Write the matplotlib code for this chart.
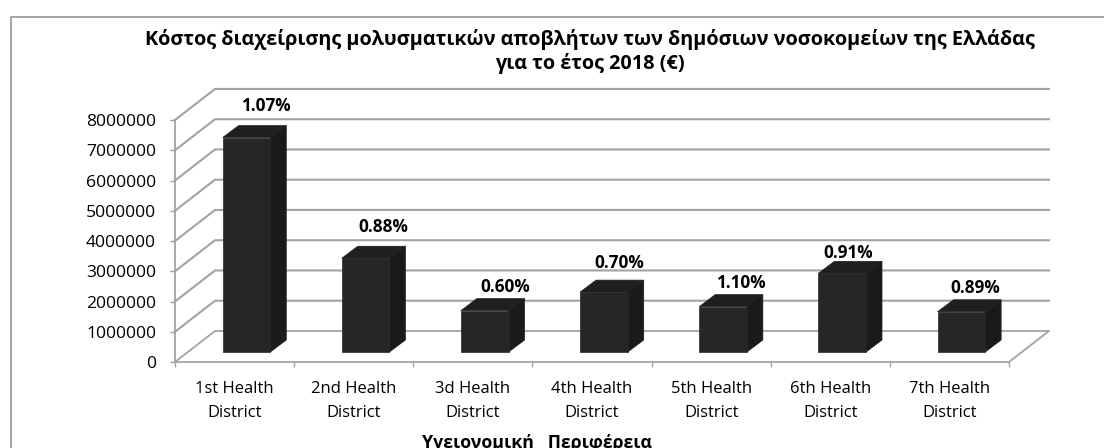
import matplotlib

matplotlib.use("Agg")
import matplotlib.pyplot as plt
from matplotlib.lines import Line2D

plt.rcParams["font.family"] = ["Open Sans", "DejaVu Sans"]

districts = [
    "1st Health\nDistrict",
    "2nd Health\nDistrict",
    "3d Health\nDistrict",
    "4th Health\nDistrict",
    "5th Health\nDistrict",
    "6th Health\nDistrict",
    "7th Health\nDistrict",
]
cost_eur = [7090000, 3100000, 1370000, 1980000, 1500000, 2600000, 1330000]
pct_labels = ["1.07%", "0.88%", "0.60%", "0.70%", "1.10%", "0.91%", "0.89%"]
y_ticks = [0, 1000000, 2000000, 3000000, 4000000, 5000000, 6000000, 7000000, 8000000]

# hand-placed label nudges, in pixels from the back top edge of each bar
label_nudge = [(3, 20), (1.5, 19.6), (5, 12), (-1, 17.6), (2, 12), (-10, 8), (-2, 12)]

W, H = 1104, 448
GRID = "#a3a3a3"
FRONT = "#262626"
SIDE = "#1a1a1a"
TOP = "#1f1f1f"

# fake 3D depth, in data units
WALL_DX = 0.336
WALL_DY = 1026000
BAR_LEFT = 0.4
BAR_W = 0.4
BAR_BASE = 330000
BAR_DX = 0.134
BAR_DY = 397000

fig = plt.figure(figsize=(W / 100, H / 100), dpi=100)
ax = fig.add_axes([175 / W, (H - 362) / H, 834 / W, 242 / H])
ax.set_xlim(0, 7)
ax.set_ylim(0, 8000000)
ax.patch.set_visible(False)

# floor and walls
n = len(districts)
ax.plot([n, n + WALL_DX, WALL_DX, 0], [0, WALL_DY, WALL_DY, 0], color=GRID, lw=1.3, clip_on=False)
for v in y_ticks[1:]:
    ax.plot([0, WALL_DX, n + WALL_DX], [v, v + WALL_DY, v + WALL_DY], color=GRID, lw=1.5, clip_on=False)

for i, (v, lab, nudge) in enumerate(zip(cost_eur, pct_labels, label_nudge)):
    x0 = i + BAR_LEFT
    x1 = x0 + BAR_W
    y0 = BAR_BASE
    y1 = BAR_BASE + v
    ax.fill([x1, x1 + BAR_DX, x1 + BAR_DX, x1], [y0, y0 + BAR_DY, y1 + BAR_DY, y1],
            fc=SIDE, ec=SIDE, lw=0.5, clip_on=False, zorder=4)
    ax.fill([x0, x1, x1 + BAR_DX, x0 + BAR_DX], [y1, y1, y1 + BAR_DY, y1 + BAR_DY],
            fc=TOP, ec=TOP, lw=0.5, clip_on=False, zorder=4)
    ax.fill([x0, x1, x1, x0], [y0, y0, y1, y1], fc=FRONT, ec=FRONT, lw=0.5, clip_on=False, zorder=4)
    ax.annotate(lab, (x0 + BAR_W / 2 + BAR_DX, y1 + BAR_DY), xytext=nudge,
                textcoords="offset pixels", ha="center", va="center",
                fontsize=12.3, fontweight="bold", color="black", zorder=5)

for side in ["top", "right"]:
    ax.spines[side].set_visible(False)
for side in ["left", "bottom"]:
    ax.spines[side].set_color(GRID)
    ax.spines[side].set_linewidth(1.3)

ax.set_yticks(y_ticks)
ax.set_yticklabels([str(v) for v in y_ticks])
ax.tick_params(axis="y", length=3.6, width=1, color=GRID, pad=10, labelsize=12.6, labelcolor="black")

# ticks on category edges, labels in the middle
ax.set_xticks(range(n + 1))
ax.set_xticklabels([])
ax.set_xticks([i + 0.5 for i in range(n)], minor=True)
ax.set_xticklabels(districts, minor=True, fontsize=12, linespacing=1.7, color="black")
ax.tick_params(axis="x", which="major", length=3.6, width=1, color=GRID)
ax.tick_params(axis="x", which="minor", length=0, pad=13.5)

fig.text(590 / W, 1 - 51.5 / H,
         "Κόστος διαχείρισης μολυσματικών αποβλήτων των δημόσιων νοσοκομείων της Ελλάδας\n"
         "για το έτος 2018 (€)",
         ha="center", va="center", fontsize=14.3, fontweight="bold", linespacing=1.25)
fig.text(537 / W, 1 - 442.5 / H, "Υγειονομική   Περιφέρεια", ha="center", va="center",
         fontsize=12.8, fontweight="bold")

# chart frame, runs off the right and bottom of the crop
fig.add_artist(Line2D([11 / W, 11 / W, 1], [0, 1 - 17.5 / H, 1 - 17.5 / H],
                      transform=fig.transFigure, color="#8c8c8c", lw=1.1))

fig.savefig("out.png", dpi=100)
plt.close(fig)
